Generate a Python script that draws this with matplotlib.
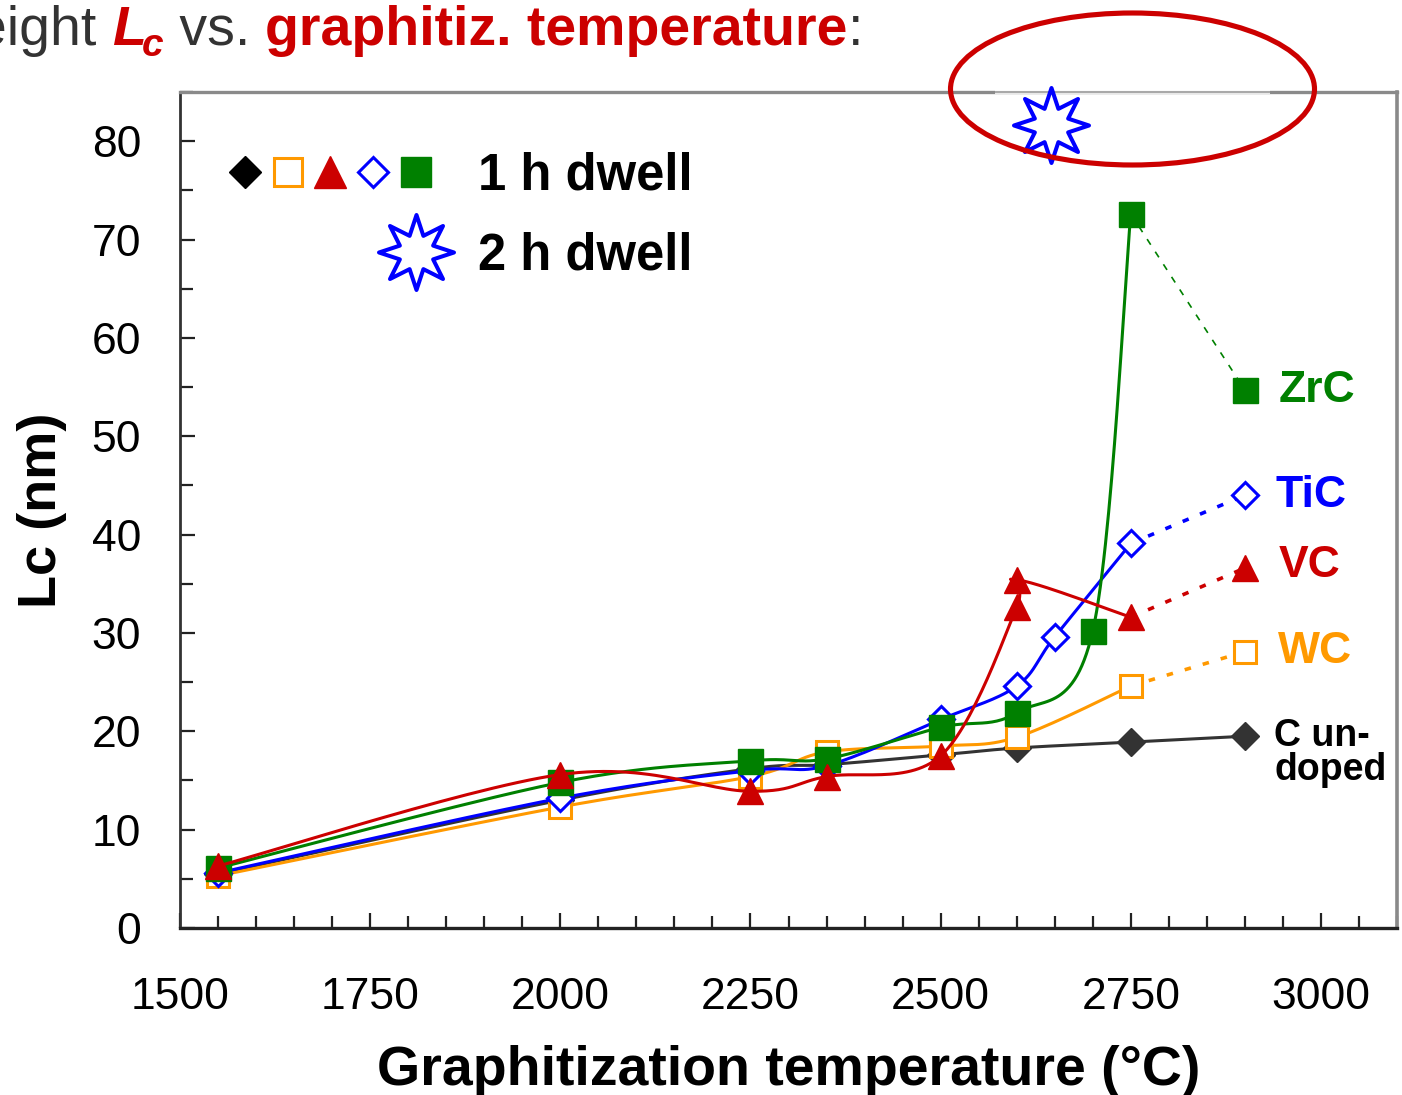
import numpy as np
import matplotlib
matplotlib.use("Agg")
import matplotlib.pyplot as plt
from matplotlib.path import Path
from matplotlib.lines import Line2D
from matplotlib.legend_handler import HandlerTuple
from matplotlib.patches import Ellipse
from matplotlib.ticker import MultipleLocator

# ---- data: crystallite height Lc (nm) vs graphitization temperature (°C), 1 h dwell ----
temp_undoped = [1550, 2000, 2250, 2350, 2500, 2600, 2750, 2900]
lc_undoped = [5.5, 13.0, 16.2, 16.6, 17.6, 18.3, 18.9, 19.5]

temp_wc = [1550, 2000, 2250, 2350, 2500, 2600, 2750, 2900]
lc_wc = [5.3, 12.3, 15.4, 17.9, 18.5, 19.4, 24.6, 28.1]

temp_tic = [1550, 2000, 2250, 2350, 2500, 2600, 2650, 2750, 2900]
lc_tic = [5.6, 13.2, 16.0, 16.5, 21.2, 24.6, 29.6, 39.1, 44.0]

temp_zrc = [1550, 2000, 2250, 2350, 2500, 2600, 2700, 2750, 2900]
lc_zrc = [6.1, 14.8, 17.0, 17.2, 20.4, 21.9, 30.2, 72.6, 54.7]

temp_vc = [1550, 2000, 2250, 2350, 2500, 2600, 2600, 2750, 2900]
lc_vc = [6.3, 15.6, 13.9, 15.4, 17.5, 32.6, 35.4, 31.6, 36.6]

# 2 h dwell (TiC)
temp_2h = [2645]
lc_2h = [81.6]

series_names = ["C un-\ndoped", "WC", "TiC", "ZrC", "VC"]

x_ticks = [1500, 1750, 2000, 2250, 2500, 2750, 3000]
y_ticks = [0, 10, 20, 30, 40, 50, 60, 70, 80]

# ---- styling ----
RED = "#CC0000"
GREEN = "#008000"
BLUE = "#0000FF"
ORANGE = "#FF9900"
DARK = "#333333"
SANS = ["Liberation Sans", "DejaVu Sans"]

plt.rcParams["font.family"] = SANS

W, H = 1402, 1095
fig = plt.figure(figsize=(W / 100, H / 100), dpi=100)
ax = fig.add_axes([180 / W, (H - 928) / H, (1397 - 180) / W, (928 - 92) / H])
ax.set_xlim(1500, 3100)
ax.set_ylim(0, 85)

ax.set_xticks(x_ticks)
ax.set_yticks(y_ticks)
ax.xaxis.set_minor_locator(MultipleLocator(50))
ax.yaxis.set_minor_locator(MultipleLocator(5))
ax.tick_params(axis="both", which="both", direction="in", top=False, right=False,
               colors="#222222", width=1.6)
ax.tick_params(axis="both", which="major", length=11, labelsize=32, labelcolor="black")
ax.tick_params(axis="both", which="minor", length=9)
ax.tick_params(axis="x", which="major", pad=35)
ax.tick_params(axis="y", which="major", pad=28)

ax.spines["left"].set_color("#333333")
ax.spines["left"].set_linewidth(2.0)
ax.spines["bottom"].set_color("#222222")
ax.spines["bottom"].set_linewidth(2.4)
ax.spines["right"].set_color("#8a8a8a")
ax.spines["right"].set_linewidth(2.6)
ax.spines["top"].set_color("#8a8a8a")
ax.spines["top"].set_linewidth(2.4)
# lighter stretch of the top frame under the highlighted region
ax.plot([0.67, 0.896], [1, 1], transform=ax.transAxes, color="white", lw=2.6,
        clip_on=False, zorder=3, solid_capstyle="butt")
ax.plot([0.67, 0.896], [1, 1], transform=ax.transAxes, color="#a0a0a0", lw=1.3,
        clip_on=False, zorder=3, solid_capstyle="butt")

ax.set_xlabel("Graphitization temperature (°C)", fontsize=40, fontweight="bold", labelpad=20)
ax.set_ylabel("Lc (nm)", fontsize=39, fontweight="bold", labelpad=18)


def smooth_curve(xs, ys, steps=30):
    """Smoothed (Bezier / Catmull-Rom) path through the points, built in display space."""
    pts = ax.transData.transform(np.column_stack([xs, ys]))
    p = np.vstack([pts[0], pts, pts[-1]])
    out = [pts[0]]
    t = np.linspace(0, 1, steps)[1:, None]
    for i in range(1, len(p) - 2):
        p0, p1, p2, p3 = p[i - 1], p[i], p[i + 1], p[i + 2]
        c1 = p1 + (p2 - p0) / 6.0
        c2 = p2 - (p3 - p1) / 6.0
        seg = ((1 - t) ** 3) * p1 + 3 * ((1 - t) ** 2) * t * c1 + 3 * (1 - t) * t ** 2 * c2 + t ** 3 * p2
        out.extend(seg)
    out = np.array(out)
    return ax.transData.inverted().transform(out)


marker_styles = {
    "C un-\ndoped": dict(marker="D", ms=14, mfc=DARK, mec=DARK, mew=1.0),
    "WC": dict(marker="s", ms=16.5, mfc="white", mec=ORANGE, mew=2.2),
    "TiC": dict(marker="D", ms=13, mfc="white", mec=BLUE, mew=2.2),
    "ZrC": dict(marker="s", ms=18, mfc=GREEN, mec=GREEN, mew=1.0),
    "VC": dict(marker="^", ms=19, mfc=RED, mec=RED, mew=1.0),
}
line_colors = {"C un-\ndoped": DARK, "WC": ORANGE, "TiC": BLUE, "ZrC": GREEN, "VC": RED}
series_data = {
    "C un-\ndoped": (temp_undoped, lc_undoped),
    "WC": (temp_wc, lc_wc),
    "TiC": (temp_tic, lc_tic),
    "ZrC": (temp_zrc, lc_zrc),
    "VC": (temp_vc, lc_vc),
}

for k, name in enumerate(series_names):
    xs, ys = series_data[name]
    col = line_colors[name]
    z = 4 + k
    if name == "C un-\ndoped":
        cx, cy = smooth_curve(xs, ys).T
        ax.plot(cx, cy, color=col, lw=2.2, zorder=z)
    else:
        # solid smoothed curve up to 2750 °C, dotted link to the 2900 °C point
        cx, cy = smooth_curve(xs[:-1], ys[:-1]).T
        ax.plot(cx, cy, color=col, lw=2.2, zorder=z)
        if name == "ZrC":
            ax.plot(xs[-2:], ys[-2:], color=col, lw=1.2, ls=(0, (4, 5)), zorder=z)
        else:
            ax.plot(xs[-2:], ys[-2:], color=col, lw=2.6, ls=(0, (1.8, 3.4)), zorder=z)
    ax.plot(xs, ys, ls="none", zorder=z + 0.5, clip_on=False, **marker_styles[name])

# eight-pointed star marker for the 2 h dwell sample
n_pts = 16
ang = np.pi / 2 + np.arange(n_pts) * np.pi / 8
rad = np.where(np.arange(n_pts) % 2 == 0, 1.0, 0.48)
star_verts = np.column_stack([rad * np.cos(ang), rad * np.sin(ang)])
star_path = Path(np.vstack([star_verts, star_verts[:1]]), closed=True)
star_style = dict(marker=star_path, ms=54, mfc="white", mec=BLUE, mew=2.9)

ax.plot(temp_2h, lc_2h, ls="none", zorder=12, clip_on=False, **star_style)

# series name labels next to the last points
label_colors = {"C un-\ndoped": "black", "WC": ORANGE, "TiC": BLUE, "ZrC": GREEN, "VC": RED}
label_offsets = {"C un-\ndoped": (21, -12), "WC": (24, 0), "TiC": (22, 0), "ZrC": (24, 0), "VC": (24, 2)}
label_sizes = {"C un-\ndoped": 27, "WC": 32, "TiC": 32, "ZrC": 32, "VC": 32}
for name in series_names:
    xs, ys = series_data[name]
    ax.annotate(name, xy=(xs[-1], ys[-1]), xytext=label_offsets[name], textcoords="offset points",
                ha="left", va="center", fontsize=label_sizes[name], fontweight="bold",
                color=label_colors[name], linespacing=0.95, annotation_clip=False)

# key: five 1 h markers in a row, star for 2 h
leg_scale = 1.18
key_order = ["C un-\ndoped", "WC", "VC", "TiC", "ZrC"]
h_1h = tuple(
    Line2D([], [], ls="none", **{**marker_styles[n], "ms": marker_styles[n]["ms"] * leg_scale})
    for n in key_order
)
h_1h = (Line2D([], [], ls="none", marker="D", ms=16.5, mfc="black", mec="black"),) + h_1h[1:]
blank = Line2D([], [], ls="none")
h_2h = (blank, blank, blank, blank, Line2D([], [], ls="none", **star_style))
leg = ax.legend([h_1h, h_2h], ["1 h dwell", "2 h dwell"],
                handler_map={tuple: HandlerTuple(ndivide=None, pad=0)},
                loc="upper left", bbox_to_anchor=((224 - 180) / 1217, 1 - (152 - 92) / 836),
                frameon=False, borderpad=0, borderaxespad=0,
                prop={"family": SANS, "weight": "bold", "size": 36.5},
                handlelength=4.2, handletextpad=0.82, labelspacing=0.6, handleheight=0.7)
leg.set_zorder(20)

# highlight ring around the 2 h point
ring = Ellipse((1132.5 / W, 1 - 89 / H), 364 / W, 152 / H, transform=fig.transFigure,
               fill=False, edgecolor=RED, lw=3.7, zorder=30, clip_on=False)
fig.patches.append(ring)

# heading text, assembled piece by piece
fig.canvas.draw()
renderer = fig.canvas.get_renderer()
base_y = 1 - 45 / H


def put(x_px, s, y=base_y, ha="left", **kw):
    t = fig.text(x_px / W, y, s, ha=ha, va="baseline", **kw)
    bb = t.get_window_extent(renderer)
    return t, bb


tfs = 40
_, bbL = put(112, "L", color=RED, fontsize=tfs, fontweight="bold", fontstyle="italic")
put(bbL.x0, "height ", ha="right", color=DARK, fontsize=tfs)
_, bbc = put(bbL.x1 - 4, "c", y=base_y - 11 / H, color=RED, fontsize=28,
             fontweight="bold", fontstyle="italic")
_, bbv = put(bbc.x1, " vs. ", color=DARK, fontsize=tfs)
_, bbg = put(bbv.x1, "graphitiz. temperature", color=RED, fontsize=tfs, fontweight="bold")
put(bbg.x1, ":", color=DARK, fontsize=tfs)

fig.savefig("out.png", dpi=100)
